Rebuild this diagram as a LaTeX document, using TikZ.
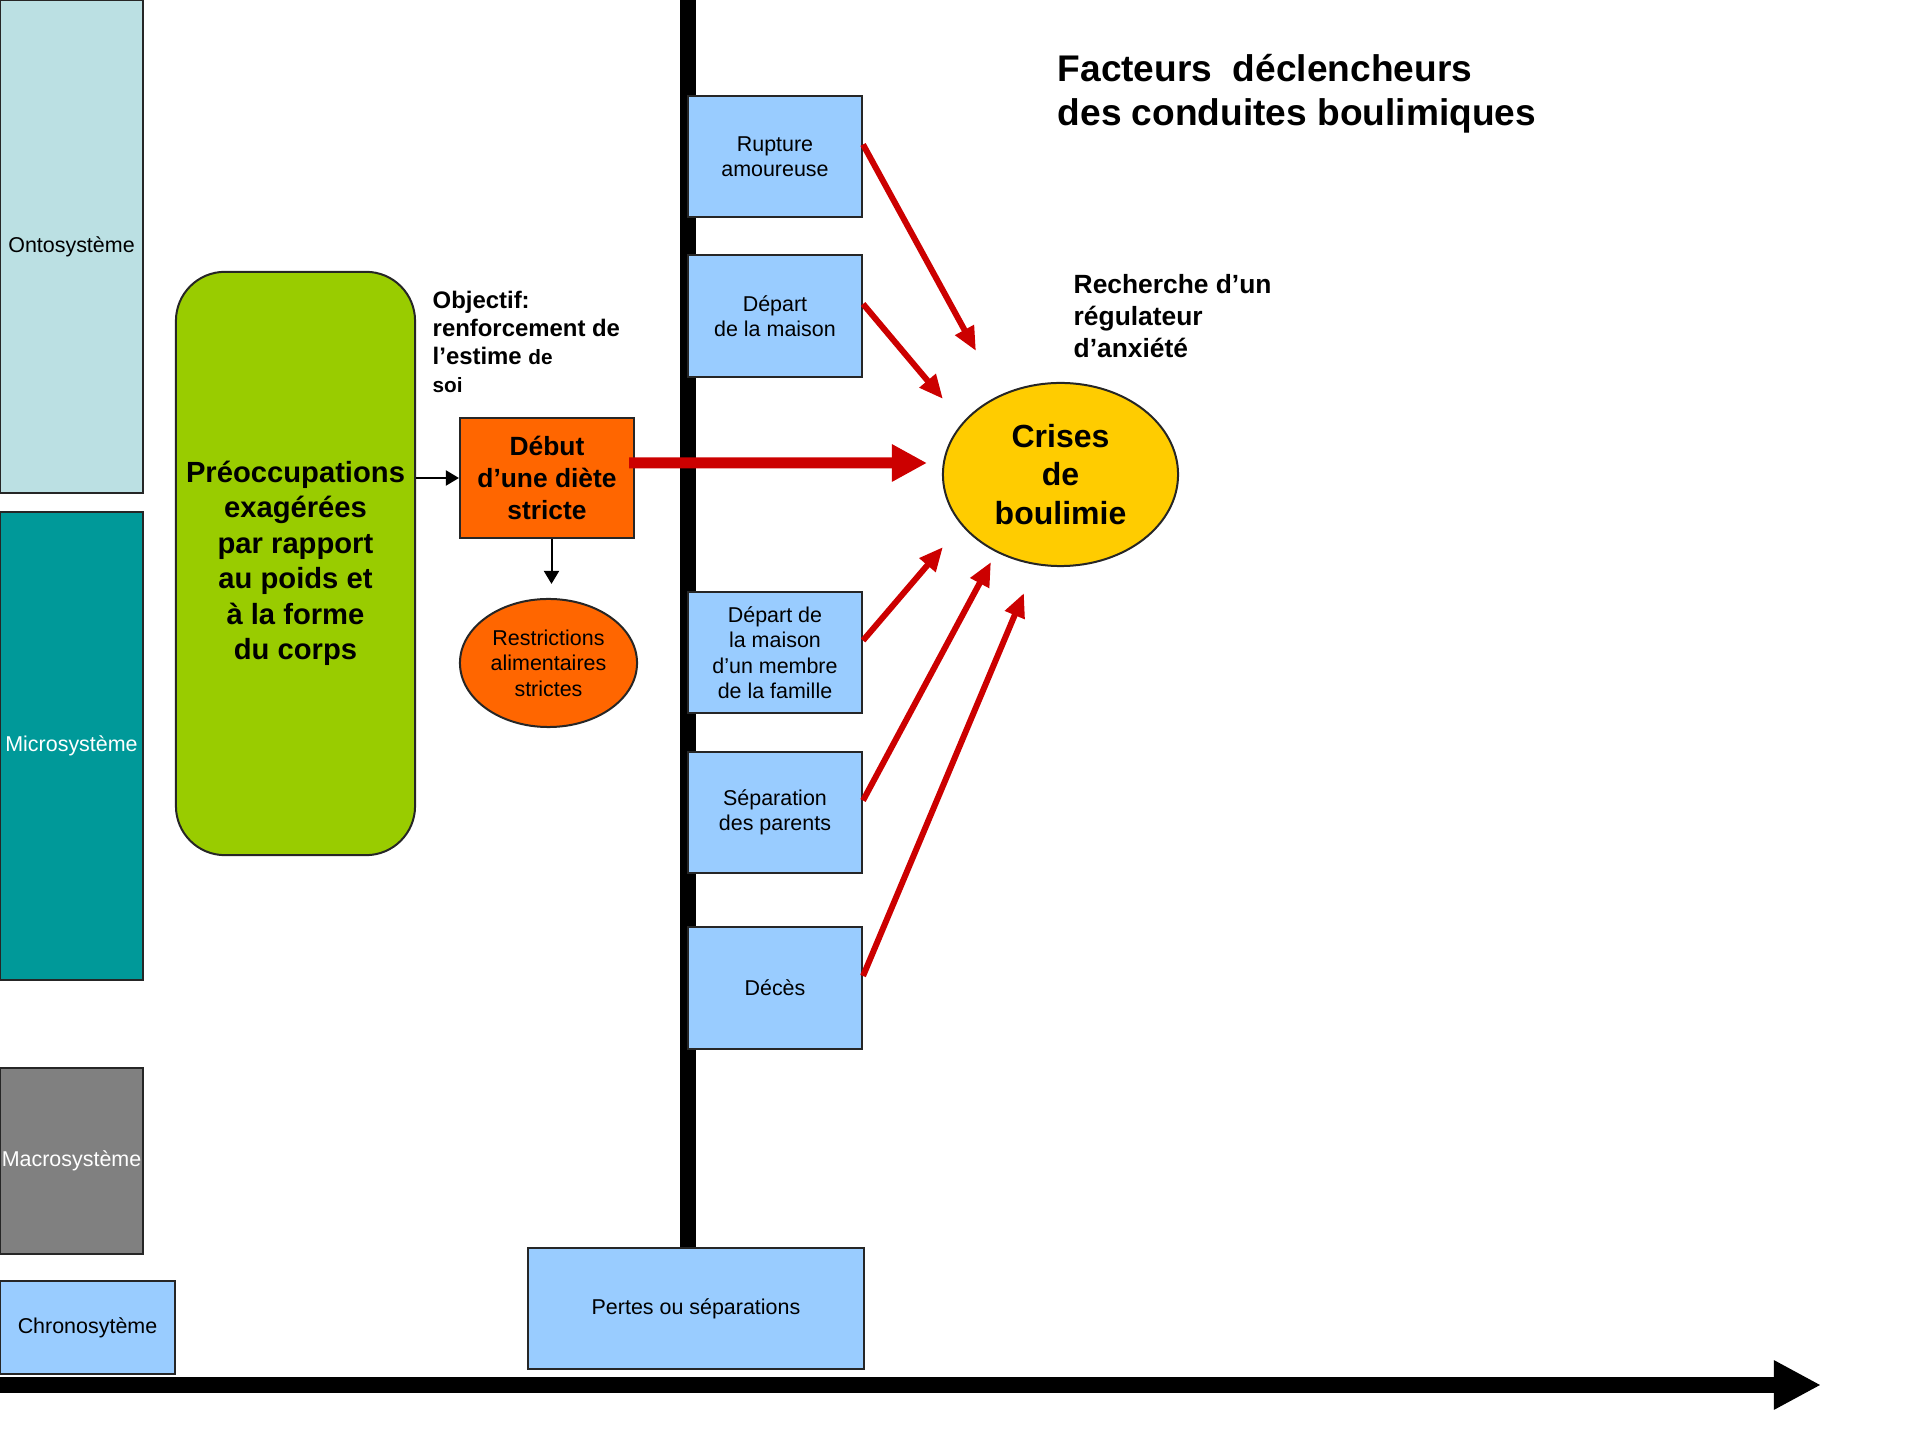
\documentclass[tikz,border=0pt]{standalone}
\usepackage{fontspec}
\setmainfont{Liberation Sans}
\usetikzlibrary{shapes,calc}
\usetikzlibrary{arrows.meta}
\definecolor{ontoColor}{RGB}{187,224,227}
\definecolor{microColor}{RGB}{0,153,153}
\definecolor{macroColor}{RGB}{128,128,128}
\definecolor{paleBlue}{RGB}{153,204,255}
\definecolor{limeColor}{RGB}{153,204,0}
\definecolor{dietColor}{RGB}{255,102,0}
\definecolor{crisisColor}{RGB}{255,204,0}
\definecolor{arrowRed}{RGB}{204,0,0}
\tikzset{
    sysBox/.style={
        ,   rectangle
        ,   draw=black!85
        ,   line width=0.02cm
        ,   inner sep=0pt
        ,   align=center
        ,   font={\fontsize{6.1}{7.25}\selectfont}
    },
    eventBox/.style={
        ,   sysBox
        ,   fill=paleBlue
        ,   minimum width=1.74cm
        ,   minimum height=1.21cm
    },
    boldText/.style={ % bold free text, size in pt
        ,   inner sep=0pt
        ,   align=left
        ,   anchor=west
        ,   font={\fontsize{#1}{1.2*#1}\selectfont\bfseries}
    },
    redArrow/.style={
        ,   draw=arrowRed
        ,   line width=0.06cm
        ,   -{Triangle[length=0.24cm,width=0.2cm]}
    },
    thinArrow/.style={
        ,   draw=black
        ,   line width=0.02cm
        ,   -{Triangle[length=0.13cm,width=0.15cm]}
    }
}

\begin{document}
\begin{tikzpicture}[x=0.01cm, y=-0.01cm]
	\useasboundingbox (0,0) rectangle (1920,1440);
	
	% systems on the left
	\node[sysBox, fill=ontoColor, minimum width=1.43cm, minimum height=4.93cm] (onto) at (71.5,246.5) {Ontosystème};
	\node[sysBox, fill=microColor, text=white, minimum width=1.43cm, minimum height=4.68cm] (micro) at (71.5,746) {Microsystème};
	\node[sysBox, fill=macroColor, text=white, minimum width=1.43cm, minimum height=1.86cm] (macro) at (71.5,1161) {Macrosystème};
	\node[sysBox, fill=paleBlue, minimum width=1.75cm, minimum height=0.93cm] (chrono) at (87.5,1327.5) {Chronosytème};
	
	% time line
	\coordinate (barTop) at (688,0);
	\node[eventBox, minimum width=3.36cm] (pertes) at (696,1308.5) {Pertes ou séparations};
	\draw[line width=0.16cm] (barTop) -- (barTop |- pertes.north);
	\coordinate (axisL) at (0,1385);
	\coordinate (axisR) at (1821,1385);
	\draw[line width=0.16cm, -{Triangle[length=0.47cm,width=0.46cm]}] (axisL) -- (axisR);
	
	% diet
	\node[sysBox, fill=limeColor, rounded corners=0.49cm, minimum width=2.39cm, minimum height=5.83cm,
		font={\fontsize{8.3}{10.1}\selectfont\bfseries}] (preoc) at (295.5,563.5)
		{Préoccupations\\exagérées\\par rapport\\au poids et\\à la forme\\du corps};
	\node[boldText=6.8, font={\fontsize{6.8}{7.95}\selectfont\bfseries}] (objectif) at (432,342)
		{Objectif:\\renforcement de\\l’estime {\fontsize{5.9}{7}\selectfont de}\\{\fontsize{5.9}{7}\selectfont soi}};
	\node[sysBox, fill=dietColor, minimum width=1.74cm, minimum height=1.2cm,
		font={\fontsize{7.5}{9.1}\selectfont\bfseries}] (diete) at (547,478) {Début\\d’une diète\\stricte};
	\node[sysBox, ellipse, fill=dietColor, minimum width=1.77cm, minimum height=1.28cm] (restr) at (548.5,663)
		{Restrictions\\alimentaires\\strictes};
	\draw[thinArrow] (preoc.east |- diete.west) -- (diete.west);
	\draw[thinArrow, shorten >=0.14cm] ([xshift=0.03cm]restr.north |- diete.south) -- ([xshift=0.03cm]restr.north);
	
	% events
	\node[eventBox] (rupt) at (775,156.5) {Rupture\\amoureuse};
	\node[eventBox] (depart) at (775,316) {Départ\\de la maison};
	\node[eventBox] (membre) at (775,652.5) {Départ de\\la maison\\d’un membre\\de la famille};
	\node[eventBox] (separ) at (775,812.5) {Séparation\\des parents};
	\node[eventBox] (deces) at (775,988) {Décès};
	
	\node[sysBox, ellipse, fill=crisisColor, minimum width=2.35cm, minimum height=1.83cm,
		font={\fontsize{9.1}{11}\selectfont\bfseries}] (crises) at (1060.5,474.5) {Crises\\de\\boulimie};
	
	\node[boldText=10.55, font={\fontsize{10.55}{12.5}\selectfont\bfseries}] (titre) at (1057,94)
		{Facteurs~ déclencheurs\\des conduites boulimiques};
	\node[boldText=7.5, font={\fontsize{7.5}{9.1}\selectfont\bfseries}] (recherche) at (1073,316)
		{Recherche d’un\\régulateur\\d’anxiété};
	
	% arrows to the crisis
	\coordinate (t0) at (927,463);
	\draw[draw=arrowRed, line width=0.11cm, -{Triangle[length=0.35cm,width=0.35cm]}]
		([xshift=-0.06cm,yshift=0.15cm]diete.east) -- (t0);
	\coordinate (t1) at (976,351);
	\coordinate (t2) at (943,399);
	\coordinate (t3) at (943,547);
	\coordinate (t4) at (991,562);
	\coordinate (t5) at (1024,593);
	\foreach \b/\t in {rupt/t1, depart/t2, membre/t3, separ/t4, deces/t5}{
		\draw[redArrow] ([yshift=0.12cm]\b.east) -- (\t);
	}
\end{tikzpicture}
\end{document}
